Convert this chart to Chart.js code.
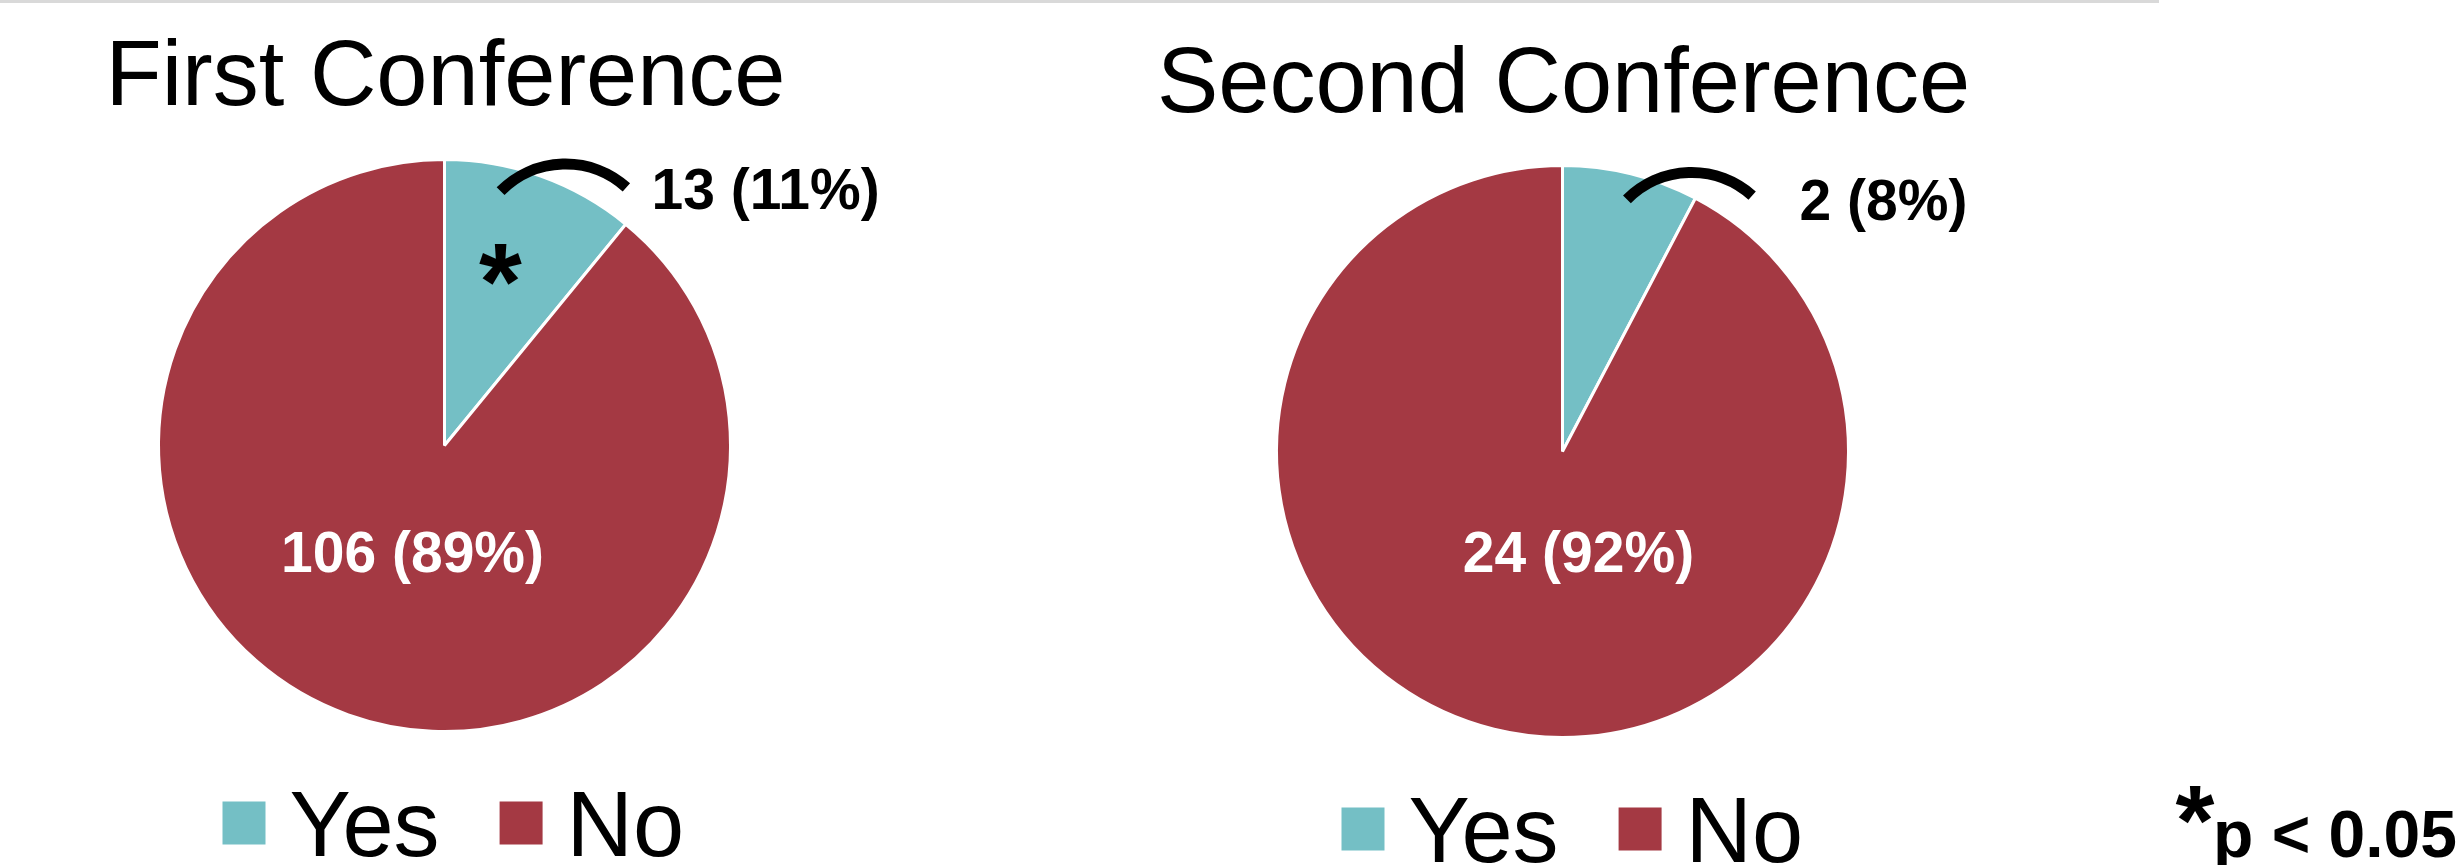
<!DOCTYPE html>
<html><head><meta charset="utf-8">
<script src="https://cdn.jsdelivr.net/npm/chart.js@4"></script>
<style>
html,body{margin:0;padding:0;background:#fff;width:2463px;height:865px;overflow:hidden;}
#topline{position:absolute;left:0;top:0;width:2159px;height:3px;background:#d9d9d9;}
#c1{position:absolute;left:0;top:0;}
#c2{position:absolute;left:1118px;top:0;}
</style></head><body>
<div id="topline"></div>
<canvas id="c1" width="890" height="865"></canvas>
<canvas id="c2" width="1345" height="865"></canvas>
<script>
// ---- data ----
const categories = ['Yes', 'No'];
const firstConference = [13, 106];
const secondConference = [2, 24];
const chartTitles = ['First Conference', 'Second Conference'];
const significanceNote = 'p < 0.05';
const sliceColors = ['#74BFC5', '#A43943'];

const FONT = '"Liberation Sans", Arial, sans-serif';

function pct(values, i) {
  const tot = values.reduce((a, b) => a + b, 0);
  return Math.round(values[i] / tot * 100) + '%';
}

function drawInkCentered(ctx, text, font, cx, cy) {
  ctx.font = font;
  ctx.textAlign = 'left';
  ctx.textBaseline = 'alphabetic';
  const m = ctx.measureText(text);
  const x = cx - (m.actualBoundingBoxRight - m.actualBoundingBoxLeft) / 2 + m.actualBoundingBoxLeft;
  const y = cy + (m.actualBoundingBoxAscent - m.actualBoundingBoxDescent) / 2;
  ctx.fillText(text, x, y);
}

const annotPlugin = {
  id: 'annot',
  afterDraw(chart) {
    const a = chart.options.plugins.annot;
    const ctx = chart.ctx;
    const arc0 = chart.getDatasetMeta(0).data[0];
    const cx = arc0.x, cy = arc0.y;
    const vals = chart.data.datasets[0].data;
    const colors = chart.data.datasets[0].backgroundColor;
    ctx.save();
    // title
    ctx.fillStyle = '#000';
    ctx.font = '92px ' + FONT;
    ctx.textAlign = 'center';
    ctx.textBaseline = 'alphabetic';
    ctx.fillText(a.title, cx + 1, cy + a.titleDy);

    // connector arc
    ctx.beginPath();
    ctx.lineWidth = 11;
    ctx.lineCap = 'butt';
    ctx.strokeStyle = '#000';
    ctx.arc(cx + a.arc.dx, cy + a.arc.dy, a.arc.r, a.arc.a0 * Math.PI / 180, a.arc.a1 * Math.PI / 180);
    ctx.stroke();

    // outside label (Yes)
    ctx.font = 'bold 57px ' + FONT;
    ctx.textAlign = 'left';
    ctx.fillStyle = '#000';
    ctx.fillText(vals[0] + ' (' + pct(vals, 0) + ')', cx + a.outLabel.dx, cy + a.outLabel.dy);

    // inside label (No)
    ctx.textAlign = 'center';
    ctx.fillStyle = '#fff';
    ctx.fillText(vals[1] + ' (' + pct(vals, 1) + ')', cx + a.inLabel.dx, cy + a.inLabel.dy);

    // significance asterisk
    if (a.star) {
      ctx.fillStyle = '#000';
      drawInkCentered(ctx, '*', 'bold 110px ' + FONT, cx + a.star.dx, cy + a.star.dy);
    }

    // legend
    let x = cx + a.legend.dx;
    const boxTop = cy + a.legend.boxDy;
    const base = cy + a.legend.textDy;
    ctx.font = '92px ' + FONT;
    ctx.textAlign = 'left';
    chart.data.labels.forEach((lab, i) => {
      ctx.fillStyle = colors[i];
      ctx.fillRect(x, boxTop, 43, 43);
      x += 43 + 24;
      ctx.fillStyle = '#000';
      ctx.fillText(lab, x, base);
      x += ctx.measureText(lab).width + 60;
    });

    // footnote
    if (a.note) {
      ctx.fillStyle = '#000';
      drawInkCentered(ctx, '*', 'bold 100px ' + FONT, a.note.starX, a.note.starY);
      ctx.font = 'bold 66px ' + FONT;
      ctx.textAlign = 'left';
      ctx.fillText(a.note.text, a.note.x, a.note.y);
    }
    ctx.restore();
  }
};

function makeChart(id, values, title, pad, annot) {
  return new Chart(document.getElementById(id), {
    type: 'pie',
    data: {
      labels: categories,
      datasets: [{
        data: values,
        backgroundColor: sliceColors,
        borderColor: '#ffffff',
        borderWidth: 3
      }]
    },
    options: {
      responsive: false,
      animation: false,
      events: [],
      devicePixelRatio: 1,
      layout: { padding: pad },
      plugins: {
        legend: { display: false },
        tooltip: { enabled: false },
        title: { display: false },
        annot: Object.assign({ title: title }, annot)
      }
    },
    plugins: [annotPlugin]
  });
}

makeChart('c1', firstConference, chartTitles[0],
  { left: 157, right: 158, top: 158, bottom: 132 },
  {
    titleDy: -341,
    arc: { dx: 121, dy: -190.5, r: 91, a0: -135.5, a1: -48 },
    outLabel: { dx: 207, dy: -237 },
    inLabel: { dx: -32, dy: 126 },
    star: { dx: 56, dy: -181 },
    legend: { dx: -222, boxDy: 356, textDy: 410 }
  });

makeChart('c2', secondConference, chartTitles[1],
  { left: 157, right: 613, top: 164, bottom: 126 },
  {
    titleDy: -340,
    arc: { dx: 129, dy: -188, r: 91, a0: -135.2, a1: -48.2 },
    outLabel: { dx: 237, dy: -232 },
    inLabel: { dx: 16, dy: 120 },
    star: null,
    legend: { dx: -221, boxDy: 356, textDy: 410 },
    note: { text: significanceNote, starX: 1077, starY: 805, x: 1095, y: 857 }
  });
</script>
</body></html>
